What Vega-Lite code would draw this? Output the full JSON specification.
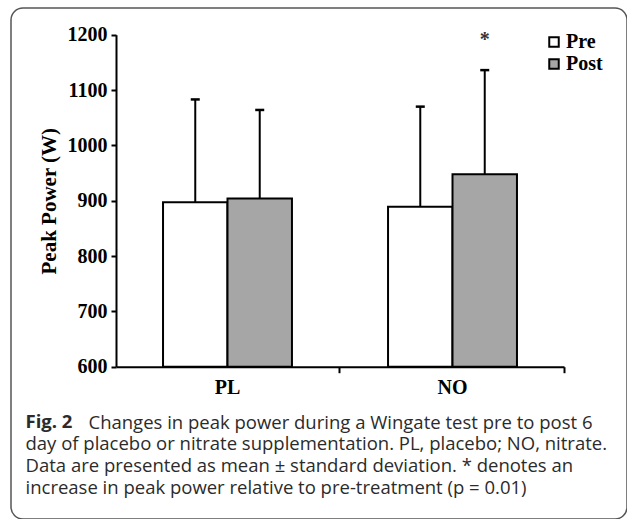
{
  "$schema": "https://vega.github.io/schema/vega-lite/v6.json",
  "width": 616,
  "height": 511,
  "autosize": {"type": "none"},
  "padding": {"left": 11, "top": 8, "right": 0, "bottom": 0},
  "background": "white",
  "config": {
    "view": {"stroke": "#555555", "strokeWidth": 1.5, "cornerRadius": 12}
  },
  "data": {
    "values": [
      {"group": "PL", "phase": "Pre", "mean": 897, "upper": 1083, "sig": ""},
      {"group": "PL", "phase": "Post", "mean": 904, "upper": 1064, "sig": ""},
      {"group": "NO", "phase": "Pre", "mean": 889, "upper": 1070, "sig": ""},
      {"group": "NO", "phase": "Post", "mean": 948, "upper": 1136, "sig": "*"}
    ]
  },
  "layer": [
    {
      "mark": {"type": "rule", "stroke": "black", "strokeWidth": 2},
      "encoding": {
        "x": {
          "field": "group", "type": "nominal", "sort": ["PL", "NO"],
          "scale": {"range": [105, 553], "paddingInner": 0.427, "paddingOuter": 0.209},
          "axis": {
            "orient": "bottom", "offset": -152.3,
            "domain": true, "domainColor": "black", "domainWidth": 2,
            "ticks": true, "tickColor": "black", "tickWidth": 2, "tickSize": 6,
            "bandPosition": 1.372,
            "labels": false, "grid": false,
            "title": "Changes in peak power during a Wingate test pre to post 6",
            "titleX": 77, "titleY": 61.3, "titleAlign": "left", "titleBaseline": "alphabetic",
            "titleFont": "Open Sans", "titleFontSize": 18.5, "titleFontWeight": "normal", "titleColor": "#2b2b2b"
          }
        },
        "xOffset": {"field": "phase", "type": "nominal", "sort": ["Pre", "Post"], "scale": {"paddingInner": 0, "paddingOuter": 0}},
        "y": {
          "field": "mean", "type": "quantitative",
          "scale": {"domain": [600, 1200], "range": [358.7, 26.7], "nice": false, "zero": false},
          "axis": {
            "orient": "left", "offset": -105,
            "domain": false, "ticks": false, "labels": false, "grid": false,
            "title": [
              "day of placebo or nitrate supplementation. PL, placebo; NO, nitrate.",
              "Data are presented as mean ± standard deviation. * denotes an",
              "increase in peak power relative to pre-treatment (p = 0.01)"
            ],
            "titleAngle": 0, "titleX": -91, "titleY": 441.5, "titleAlign": "left", "titleBaseline": "alphabetic",
            "titleFont": "Open Sans", "titleFontSize": 18.5, "titleFontWeight": "normal", "titleColor": "#2b2b2b",
            "titleLineHeight": 21.8
          }
        },
        "y2": {"field": "upper"}
      }
    },
    {
      "mark": {"type": "bar", "stroke": "black", "strokeWidth": 2},
      "encoding": {
        "x": {
          "field": "group", "type": "nominal", "sort": ["PL", "NO"],
          "scale": {"range": [105, 553], "paddingInner": 0.427, "paddingOuter": 0.209},
          "axis": {
            "orient": "bottom", "offset": -152.3,
            "domain": false, "ticks": false, "tickSize": 0, "grid": false,
            "labelFont": "Liberation Serif", "labelFontWeight": "bold", "labelFontSize": 20, "labelColor": "black",
            "labelPadding": 11, "labelAngle": 0,
            "title": "Fig. 2",
            "titleX": 14, "titleY": 61, "titleAlign": "left", "titleBaseline": "alphabetic",
            "titleFont": "Open Sans", "titleFontSize": 18.5, "titleFontWeight": "bold", "titleColor": "#2b2b2b"
          }
        },
        "xOffset": {"field": "phase", "type": "nominal", "sort": ["Pre", "Post"], "scale": {"paddingInner": 0, "paddingOuter": 0}},
        "y": {
          "field": "mean", "type": "quantitative",
          "scale": {"domain": [600, 1200], "range": [358.7, 26.7], "nice": false, "zero": false},
          "axis": {
            "orient": "left", "offset": -105,
            "values": [600, 700, 800, 900, 1000, 1100, 1200],
            "format": "d",
            "domain": true, "domainColor": "black", "domainWidth": 2,
            "ticks": true, "tickColor": "black", "tickWidth": 2, "tickSize": 5,
            "labelFont": "Liberation Serif", "labelFontWeight": "bold", "labelFontSize": 20, "labelColor": "black",
            "labelPadding": 4, "grid": false,
            "title": "Peak Power (W)",
            "titleFont": "Liberation Serif", "titleFontWeight": "bold", "titleFontSize": 21, "titleColor": "black",
            "titlePadding": 8
          }
        },
        "y2": {"datum": 600},
        "fill": {
          "field": "phase", "type": "nominal",
          "scale": {"domain": ["Pre", "Post"], "range": ["#ffffff", "#a6a6a6"]},
          "legend": {
            "title": null, "orient": "none", "legendX": 533, "legendY": 24,
            "symbolType": "square", "symbolSize": 90,
            "symbolStrokeColor": "black", "symbolStrokeWidth": 2,
            "labelFont": "Liberation Serif", "labelFontWeight": "bold", "labelFontSize": 20, "labelColor": "black",
            "labelOffset": 2, "rowPadding": 2, "padding": 0
          }
        }
      }
    },
    {
      "mark": {"type": "tick", "color": "black", "size": 9, "thickness": 2.5, "opacity": 1},
      "encoding": {
        "x": {"field": "group", "type": "nominal", "sort": ["PL", "NO"], "axis": null},
        "xOffset": {"field": "phase", "type": "nominal", "sort": ["Pre", "Post"]},
        "y": {"field": "upper", "type": "quantitative", "axis": null}
      }
    },
    {
      "transform": [{"filter": "datum.sig != ''"}],
      "mark": {"type": "text", "font": "Liberation Serif", "fontSize": 20, "fontWeight": "bold", "color": "#333333", "baseline": "alphabetic"},
      "encoding": {
        "x": {"field": "group", "type": "nominal", "sort": ["PL", "NO"], "axis": null},
        "xOffset": {"field": "phase", "type": "nominal", "sort": ["Pre", "Post"]},
        "y": {"datum": 1180, "type": "quantitative", "axis": null},
        "text": {"field": "sig"}
      }
    }
  ],
  "resolve": {"axis": {"x": "independent", "y": "independent"}}
}
